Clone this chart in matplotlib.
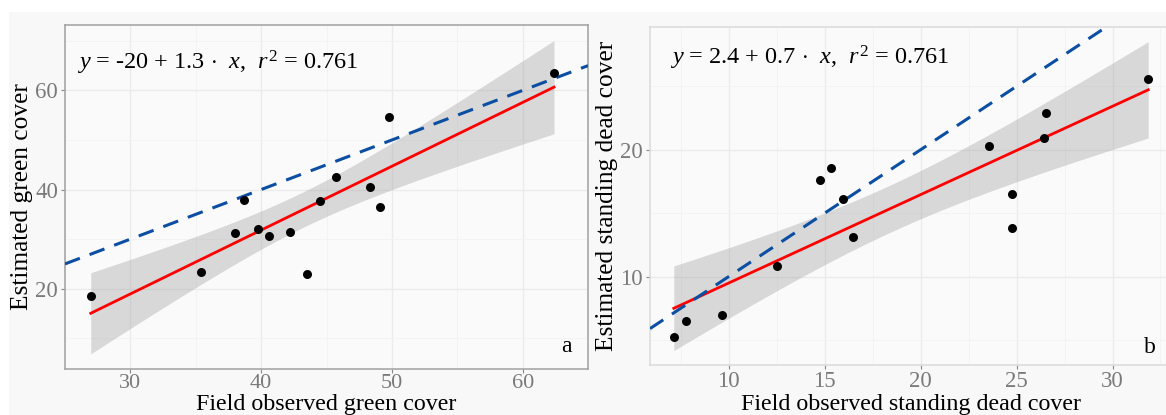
import numpy as np
import matplotlib
matplotlib.use("Agg")
import matplotlib.pyplot as plt
from matplotlib.patches import Rectangle

# ---------------- data ----------------
green_obs = [26.97, 35.4, 37.98, 38.7, 39.75, 40.6, 42.2, 43.5, 44.5, 45.7, 48.3, 49.1, 49.8, 62.4]
green_est = [18.5, 23.3, 31.2, 37.8, 32.0, 30.7, 31.5, 22.9, 37.7, 42.6, 40.6, 36.4, 54.6, 63.5]

dead_obs = [7.14, 7.77, 9.67, 12.5, 14.77, 15.35, 15.94, 16.5, 23.57, 24.75, 24.75, 26.53, 26.45, 31.86]
dead_est = [5.22, 6.5, 6.98, 10.82, 17.58, 18.53, 16.1, 13.13, 20.26, 16.5, 13.8, 22.87, 20.92, 25.58]

eq_a = r"$y$ = -20 + 1.3 $\cdot$  $x$,  $r^2$ = 0.761"
eq_b = r"$y$ = 2.4 + 0.7 $\cdot$  $x$,  $r^2$ = 0.761"

xlabel_a = "Field observed green cover"
ylabel_a = "Estimated green cover"
xlabel_b = "Field observed standing dead cover"
ylabel_b = "Estimated standing dead cover"

xticks_a = [30, 40, 50, 60]
yticks_a = [20, 40, 60]
xticks_b = [10, 15, 20, 25, 30]
yticks_b = [10, 20]

T_CRIT = 2.1788  # 95% t quantile, df = 12

# ---------------- style ----------------
plt.rcParams['font.family'] = ['Liberation Serif', 'DejaVu Serif']
plt.rcParams['mathtext.fontset'] = 'custom'
plt.rcParams['mathtext.rm'] = 'Liberation Serif'
plt.rcParams['mathtext.it'] = 'Liberation Serif:italic'

W, H = 1166, 415
fig = plt.figure(figsize=(W / 100, H / 100), dpi=100, facecolor='white')
fig.patches.append(Rectangle((9 / W, 0), 1, (H - 12) / H, transform=fig.transFigure,
                             facecolor='#F8F8F8', edgecolor='none', zorder=-10))


def fx(px):
    return px / W


def fy(py):
    return 1 - py / H


def panel(rect, x, y, xlim, ylim, xticks, yticks, eq, eqpos, letter, letterpos,
          xlabel, ylabel, spine_color, ylabel_x, xlabel_y, xtick_size):
    ax = fig.add_axes(rect)
    ax.set_facecolor('#FAFAFA')
    x = np.asarray(x)
    y = np.asarray(y)
    n = len(x)
    b1, b0 = np.polyfit(x, y, 1)
    xs = np.linspace(x.min(), x.max(), 100)
    yhat = b0 + b1 * xs
    resid = y - (b0 + b1 * x)
    s = np.sqrt(np.sum(resid ** 2) / (n - 2))
    sxx = np.sum((x - x.mean()) ** 2)
    se = s * np.sqrt(1 / n + (xs - x.mean()) ** 2 / sxx)
    ax.fill_between(xs, yhat - T_CRIT * se, yhat + T_CRIT * se, color='#999999',
                    alpha=0.35, linewidth=0, zorder=2)
    ax.plot(xs, yhat, color='#FF0000', lw=2.0, zorder=3)
    ax.axline((0, 0), slope=1, color='#0B4EA2', lw=2.2, dashes=(5.2, 3.4), zorder=4)
    ax.scatter(x, y, s=42, color='black', zorder=5, linewidths=0)

    ax.set_xlim(*xlim)
    ax.set_ylim(*ylim)
    ax.set_xticks(xticks)
    ax.set_yticks(yticks)
    dx = xticks[1] - xticks[0]
    dy = yticks[1] - yticks[0]
    ax.set_xticks([t + dx / 2 for t in [xticks[0] - dx] + xticks], minor=True)
    ax.set_yticks([t + dy / 2 for t in [yticks[0] - dy] + yticks], minor=True)
    ax.grid(True, which='major', color='#EBEBEB', lw=1.0, zorder=0)
    ax.grid(True, which='minor', color='#F2F2F2', lw=0.6, zorder=0)
    ax.set_axisbelow(True)
    ax.tick_params(which='major', length=3, width=0.8, color='#888888', labelcolor='#7A7A7A',
                   labelsize=16.5, pad=2)
    ax.tick_params(axis='x', which='major', pad=1, labelsize=xtick_size)
    ax.tick_params(which='minor', length=0)
    for sp in ax.spines.values():
        sp.set_color(spine_color)
        sp.set_linewidth(1.1)

    ax.text(eqpos[0], eqpos[1], eq, transform=ax.transAxes, fontsize=17.5, ha='left',
            va='baseline', color='black')
    ax.text(letterpos[0], letterpos[1], letter, transform=ax.transAxes, fontsize=17,
            ha='center', va='baseline', color='black')

    fig.text(ylabel_x, (rect[1] + rect[1] + rect[3]) / 2, ylabel, rotation=90, ha='center',
             va='center', fontsize=18.3, color='black')
    fig.text(rect[0] + rect[2] / 2, xlabel_y, xlabel, ha='center', va='baseline',
             fontsize=17.3, color='black')
    return ax


# panel a
ra = [fx(65), fy(368.5), fx(588) - fx(65), fy(25) - fy(368.5)]
panel(ra, green_obs, green_est, (25.16, 64.2), (3.9, 73.2), xticks_a, yticks_a,
      eq_a, (0.023, 0.870), 'a', (0.958, 0.048), xlabel_a, ylabel_a, '#A0A0A0',
      fx(22), fy(410), 16)

# panel b
rb = [fx(650), fy(365), fx(1172) - fx(650), fy(26.7) - fy(365)]
panel(rb, dead_obs, dead_est, (5.9, 33.1), (3.03, 29.7), xticks_b, yticks_b,
      eq_b, (0.038, 0.887), 'b', (0.958, 0.036), xlabel_b, ylabel_b, '#DADADA',
      fx(607), fy(410), 16.5)

fig.savefig('out.png', dpi=100, facecolor='white')
